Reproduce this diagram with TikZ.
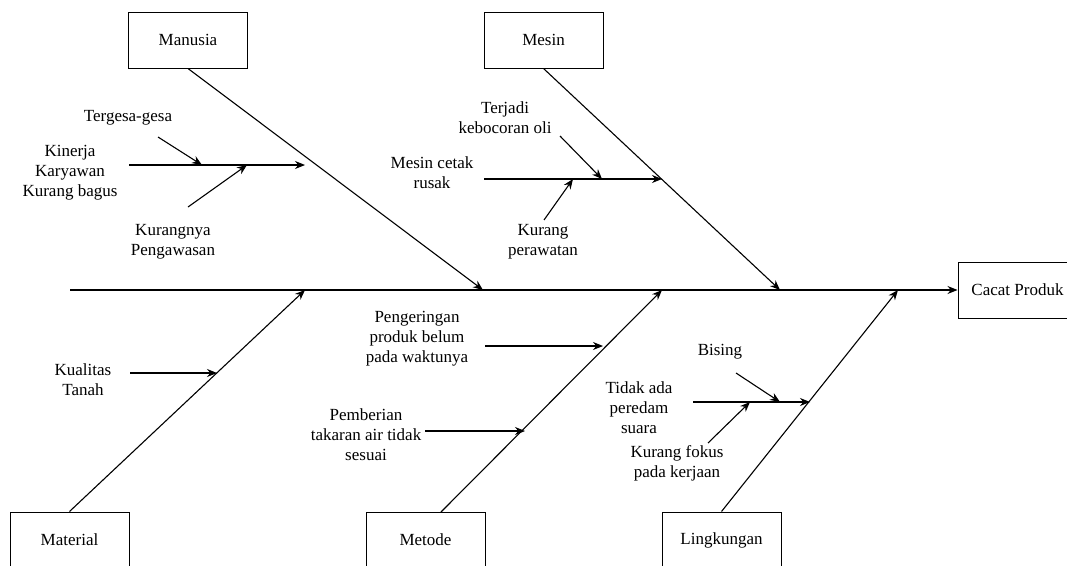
\documentclass[tikz,border=0pt]{standalone}
\usepackage{fontspec}
\setmainfont{Liberation Serif}
\usetikzlibrary{arrows.meta}
\tikzset{
	kategori/.style={draw, line width=1pt, minimum width=119pt, minimum height=56pt, inner sep=0pt},
	sebab/.style={align=center, inner sep=1pt},
	panah/.style={-{Stealth[length=10pt, width=8pt]}, line width=1.1pt},
	tulang/.style={line width=1.1pt},
}
\begin{document}
\begin{tikzpicture}[x=1pt, y=-1pt, font=\fontsize{17}{20}\selectfont]
		\useasboundingbox (0,0) rectangle (1067,565);
		
		% kategori
		\draw (188,40) node[kategori] (manusia) {Manusia};
		\draw (543.5,40) node[kategori] (mesin) {Mesin};
		\draw (69.5,540) node[kategori] (material) {Material};
		\draw (425.5,540) node[kategori] (metode) {Metode};
		\draw (721.5,540) node[kategori] (lingkungan) {Lingkungan};
		\draw (1017.5,290) node[kategori] (produk) {Cacat Produk};
		
		% tulang utama
		\coordinate (kepala) at (70,290);
		\coordinate (tMaterial) at (305,290);
		\coordinate (tManusia) at (483,290);
		\coordinate (tMetode) at (662,290);
		\coordinate (tMesin) at (780,290);
		\coordinate (tLingkungan) at (898,290);
		\coordinate (awalMetode) at (441,512);
		
		\draw[panah] (kepala) -- (produk.west);
		\draw[panah] (manusia.south) -- (tManusia);
		\draw[panah] (mesin.south) -- (tMesin);
		\draw[panah] (material.north) -- (tMaterial);
		\draw[panah] (awalMetode) -- (tMetode);
		\draw[panah] (lingkungan.north) -- (tLingkungan);
		
		% Manusia
		\draw (128,118) node[sebab] (tergesa) {Tergesa-gesa};
		\draw (70,173) node[sebab] (kinerja) {Kinerja\\Karyawan\\Kurang bagus};
		\draw (173,242) node[sebab] (awas) {Kurangnya\\Pengawasan};
		\coordinate (kinA) at (129,165);
		\coordinate (kinB) at (305,165);
		\coordinate (tgA) at (158,137);
		\coordinate (tgB) at (202,165);
		\coordinate (awA) at (188,207);
		\coordinate (awB) at (247,165);
		\draw[panah] (kinA) -- (kinB);
		\draw[panah] (tgA) -- (tgB);
		\draw[panah] (awA) -- (awB);
		
		% Mesin
		\draw (505,118) node[sebab] (bocor) {Terjadi\\kebocoran oli};
		\draw (432,173) node[sebab] (cetak) {Mesin cetak\\rusak};
		\draw (543,242) node[sebab] (rawat) {Kurang\\perawatan};
		\coordinate (ctA) at (484,179);
		\coordinate (ctB) at (662,179);
		\coordinate (bcA) at (560,136);
		\coordinate (bcB) at (602,179);
		\coordinate (rwA) at (544,220);
		\coordinate (rwB) at (573,179);
		\draw[panah] (ctA) -- (ctB);
		\draw[panah] (bcA) -- (bcB);
		\draw[panah] (rwA) -- (rwB);
		
		% Material
		\draw (83,380) node[sebab] (tanah) {Kualitas\\Tanah};
		\coordinate (thA) at (130,373);
		\coordinate (thB) at (217,373);
		\draw[panah] (thA) -- (thB);
		
		% Metode
		\draw (417,339) node[sebab] (kering) {Pengeringan\\produk belum\\pada waktunya};
		\draw (366,435) node[sebab] (takaran) {Pemberian\\takaran air tidak\\sesuai};
		\coordinate (krA) at (485,346);
		\coordinate (krB) at (603,346);
		\coordinate (tkA) at (425,431);
		\coordinate (tkB) at (525,431);
		\draw[panah] (krA) -- (krB);
		\draw[panah] (tkA) -- (tkB);
		
		% Lingkungan
		\draw (720,352) node[sebab] (bising) {Bising};
		\draw (639,408) node[sebab] (redam) {Tidak ada\\peredam\\suara};
		\draw (677,463) node[sebab] (fokus) {Kurang fokus\\pada kerjaan};
		\coordinate (rdA) at (693,402);
		\coordinate (rdB) at (810,402);
		\coordinate (bsA) at (736,373);
		\coordinate (bsB) at (780,402);
		\coordinate (fkA) at (708,443);
		\coordinate (fkB) at (750,402);
		\draw[panah] (rdA) -- (rdB);
		\draw[panah] (bsA) -- (bsB);
		\draw[panah] (fkA) -- (fkB);
	\end{tikzpicture}
\end{document}
